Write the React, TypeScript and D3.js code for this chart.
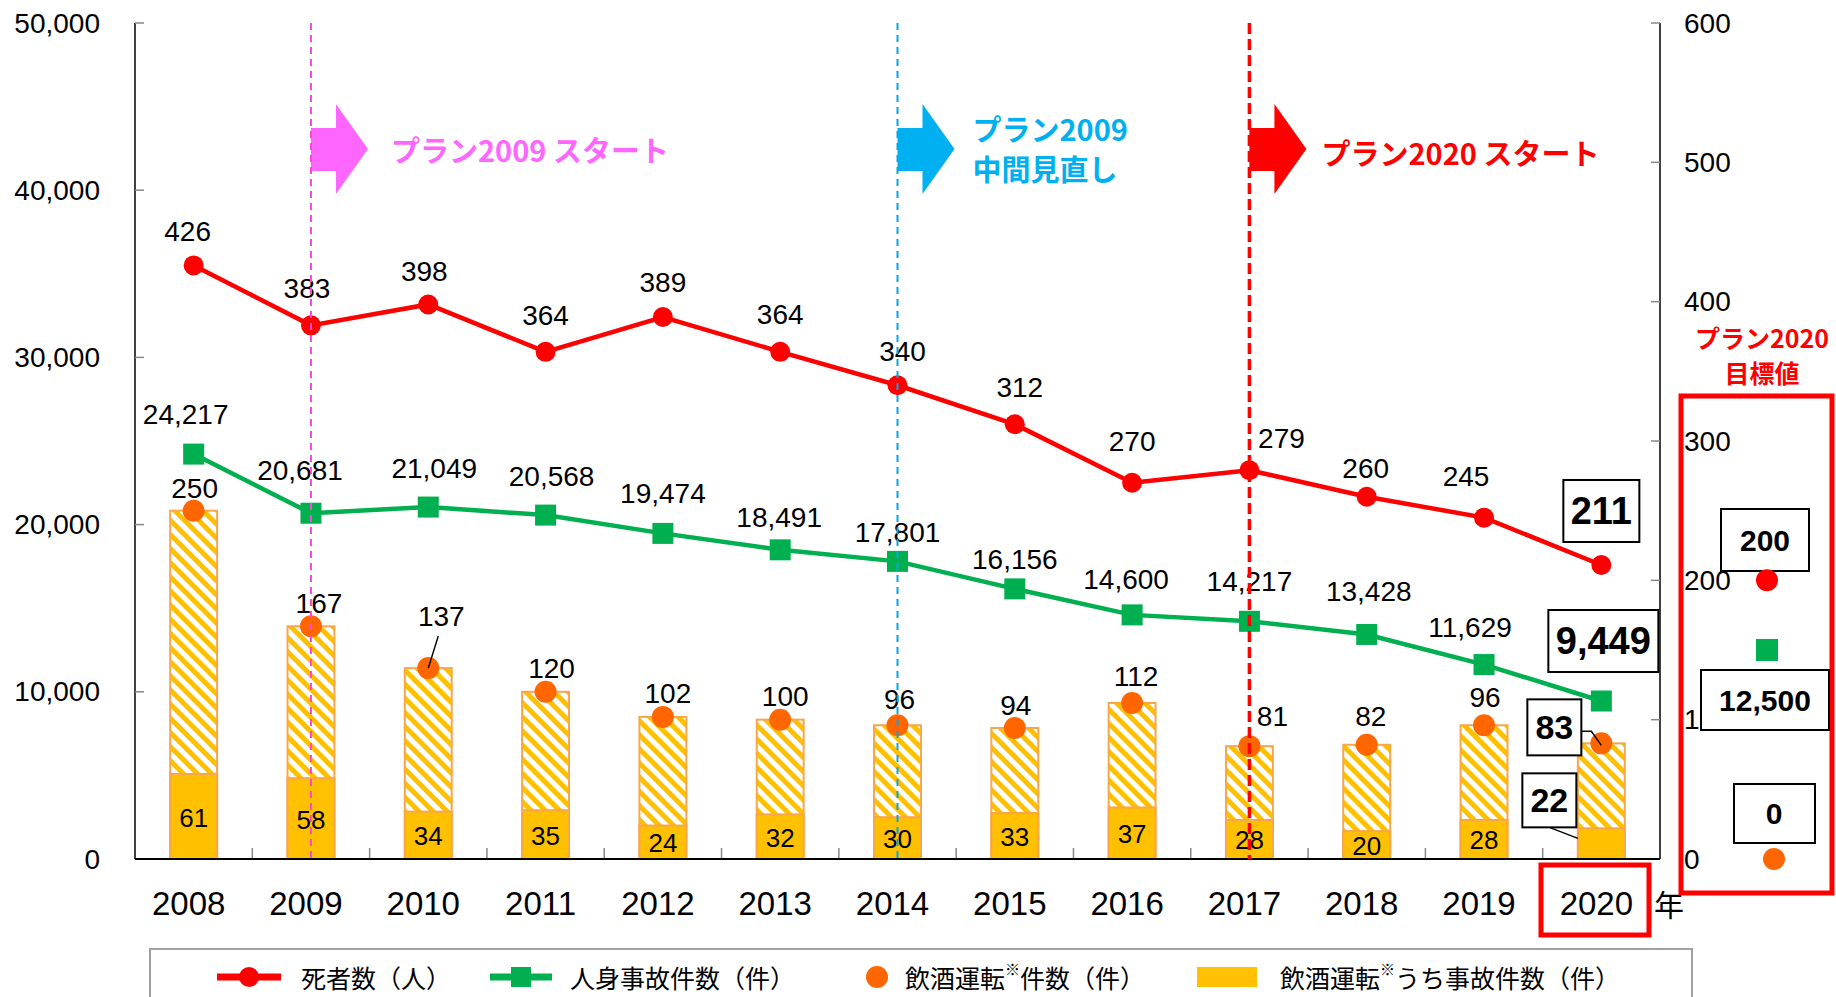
import React from "react";
import * as d3 from "d3";

const years = ["2008","2009","2010","2011","2012","2013","2014","2015","2016","2017","2018","2019","2020"];
const deaths = [426,383,398,364,389,364,340,312,270,279,260,245,211];
const injuryAccidents = [24217,20681,21049,20568,19474,18491,17801,16156,14600,14217,13428,11629,9449];
const drunkDriving = [250,167,137,120,102,100,96,94,112,81,82,96,83];
const drunkAccidents = [61,58,34,35,24,32,30,33,37,28,20,28,22];
const leftTicks = [0,10000,20000,30000,40000,50000];
const rightTicks = [0,100,200,300,400,500,600];
const targetDeaths = 200;
const targetInjury = 12500;
const targetDrunk = 0;

const annotations = [
  { year: "2009", color: "#FF66FF", lineColor: "#FF44DD", lines: ["プラン2009 スタート"], width: 2, dash: "7,5", textDx: 80, textY: [149] },
  { year: "2014", color: "#00B0F0", lineColor: "#00A8E8", lines: ["プラン2009", "中間見直し"], width: 2, dash: "7,5", textDx: 75, textY: [128, 168] },
  { year: "2017", color: "#FF0000", lineColor: "#FF0000", lines: ["プラン2020 スタート"], width: 3.5, dash: "11,5", textDx: 72, textY: [152] },
];

// label offsets (text centre relative to point)
const deathLabelOff = [[-6,-34],[-4,-37],[-4,-33],[0,-36],[0,-34],[0,-37],[5,-34],[5,-37],[0,-41],[32,-32],[-1,-28],[-18,-41]];
const injuryLabelOff = [[-8,-40],[-11,-43],[6,-39],[6,-39],[0,-40],[-1,-32],[0,-29],[0,-29],[-6,-35],[0,-40],[2,-43],[-14,-37]];
const drunkLabelOff = [[1,-22],[8,-23],[13,-52],[6,-23],[5,-23],[5,-23],[2,-26],[1,-23],[4,-26],[23,-30],[4,-28],[1,-28]];

const W = 1836, H = 997;
const L = 135, R = 1660, T = 23, B = 859;

const RED = "#FF0000", GREEN = "#00B050", ORANGE = "#FF6600", YELLOW = "#FFC000", BARSTROKE = "#F9A54A";
const NUM = "'Liberation Sans', Arial, sans-serif";
const JP = "'Noto Sans CJK JP', sans-serif";

export default function App() {
  const x = d3.scaleBand<string>().domain(years).range([L, R]).paddingInner(0).paddingOuter(0);
  const yL = d3.scaleLinear().domain([0, 50000]).range([B, T]);
  const yR = d3.scaleLinear().domain([0, 600]).range([B, T]);
  const cx = (y: string) => (x(y) as number) + x.bandwidth() / 2;
  const barW = x.bandwidth() * 0.4;
  const fmt = d3.format(",");

  const deathLine = d3.line<number>().x((_, i) => cx(years[i])).y(d => yR(d))(deaths) as string;
  const injuryLine = d3.line<number>().x((_, i) => cx(years[i])).y(d => yL(d))(injuryAccidents) as string;

  const last = years.length - 1;
  const lx = cx(years[last]);
  const tx = 1767;

  return (
    <svg width={W} height={H} style={{ position: "absolute", left: 0, top: 0, background: "#fff" }}>
      <defs>
        <pattern id="hatch" patternUnits="userSpaceOnUse" width="10" height="10" patternTransform="rotate(-45)">
          <rect width="10" height="10" fill="#fff" />
          <rect width="5" height="10" fill={YELLOW} />
        </pattern>
      </defs>

      {/* bars */}
      {years.map((yr, i) => (
        <g key={"bar" + yr}>
          <rect x={cx(yr) - barW / 2} y={yR(drunkDriving[i])} width={barW} height={B - yR(drunkDriving[i])} fill="url(#hatch)" stroke={BARSTROKE} strokeWidth={2} />
          <rect x={cx(yr) - barW / 2} y={yR(drunkAccidents[i])} width={barW} height={B - yR(drunkAccidents[i])} fill={YELLOW} stroke={BARSTROKE} strokeWidth={2} />
        </g>
      ))}

      {/* axes */}
      <line x1={L} x2={L} y1={T} y2={B} stroke="#000" strokeWidth={1.5} />
      <line x1={R} x2={R} y1={T} y2={B} stroke="#000" strokeWidth={1.5} />
      {leftTicks.map(t => (
        <g key={"lt" + t}>
          <line x1={L} x2={L + 9} y1={yL(t)} y2={yL(t)} stroke="#888" strokeWidth={1.5} />
          <text x={100} y={yL(t)} textAnchor="end" dominantBaseline="central" fontFamily={NUM} fontSize={28}>{fmt(t)}</text>
        </g>
      ))}
      {rightTicks.map(t => (
        <g key={"rt" + t}>
          <line x1={R - 9} x2={R} y1={yR(t)} y2={yR(t)} stroke="#888" strokeWidth={1.5} />
          <text x={1684} y={yR(t)} textAnchor="start" dominantBaseline="central" fontFamily={NUM} fontSize={28}>{t}</text>
        </g>
      ))}
      {years.map((yr, i) => i > 0 ? (
        <line key={"xt" + yr} x1={x(yr)} x2={x(yr)} y1={B} y2={B - 11} stroke="#888" strokeWidth={1.5} />
      ) : null)}
      <line x1={L} x2={R} y1={B} y2={B} stroke="#000" strokeWidth={2} />
      {years.map(yr => (
        <text key={"xl" + yr} x={cx(yr) - 5} y={903} textAnchor="middle" dominantBaseline="central" fontFamily={NUM} fontSize={33}>{yr}</text>
      ))}
      <text x={1669} y={903} textAnchor="middle" dominantBaseline="central" fontFamily={JP} fontSize={30}>年</text>
      <rect x={1541} y={865} width={108} height={70} fill="none" stroke={RED} strokeWidth={5} />

      {/* lines */}
      <path d={deathLine} fill="none" stroke={RED} strokeWidth={4.5} />
      <path d={injuryLine} fill="none" stroke={GREEN} strokeWidth={4.5} />
      {deaths.map((d, i) => <circle key={"dm" + i} cx={cx(years[i])} cy={yR(d)} r={10} fill={RED} />)}
      {injuryAccidents.map((d, i) => <rect key={"im" + i} x={cx(years[i]) - 10.5} y={yL(d) - 10.5} width={21} height={21} fill={GREEN} />)}
      {drunkDriving.map((d, i) => <circle key={"om" + i} cx={cx(years[i])} cy={yR(d)} r={11} fill={ORANGE} />)}

      {/* data labels */}
      {deaths.slice(0, last).map((d, i) => (
        <text key={"dl" + i} x={cx(years[i]) + deathLabelOff[i][0]} y={yR(d) + deathLabelOff[i][1]} textAnchor="middle" dominantBaseline="central" fontFamily={NUM} fontSize={28}>{d}</text>
      ))}
      {injuryAccidents.slice(0, last).map((d, i) => (
        <text key={"il" + i} x={cx(years[i]) + injuryLabelOff[i][0]} y={yL(d) + injuryLabelOff[i][1]} textAnchor="middle" dominantBaseline="central" fontFamily={NUM} fontSize={28}>{fmt(d)}</text>
      ))}
      {drunkDriving.slice(0, last).map((d, i) => (
        <text key={"ol" + i} x={cx(years[i]) + drunkLabelOff[i][0]} y={yR(d) + drunkLabelOff[i][1]} textAnchor="middle" dominantBaseline="central" fontFamily={NUM} fontSize={28}>{d}</text>
      ))}
      <line x1={cx(years[2]) + 10} y1={yR(drunkDriving[2]) - 32} x2={cx(years[2])} y2={yR(drunkDriving[2])} stroke="#000" strokeWidth={1.5} />
      {drunkAccidents.slice(0, last).map((d, i) => (
        <text key={"bl" + i} x={cx(years[i])} y={(yR(d) + B) / 2 + 1} textAnchor="middle" dominantBaseline="central" fontFamily={NUM} fontSize={26}>{d}</text>
      ))}

      {/* 2020 boxed labels */}
      <g fontFamily={NUM} fontWeight="bold" textAnchor="middle">
        <rect x={lx - 38} y={yR(deaths[last]) - 54 - 31} width={76} height={62} fill="#fff" stroke="#000" strokeWidth={2} />
        <text x={lx} y={yR(deaths[last]) - 54} dominantBaseline="central" fontSize={38}>{deaths[last]}</text>
        <rect x={lx + 2 - 55} y={yL(injuryAccidents[last]) - 60 - 31} width={110} height={62} fill="#fff" stroke="#000" strokeWidth={2} />
        <text x={lx + 2} y={yL(injuryAccidents[last]) - 60} dominantBaseline="central" fontSize={38}>{fmt(injuryAccidents[last])}</text>
        <polyline points={`${lx - 20},${yR(drunkDriving[last]) - 12} ${lx - 10},${yR(drunkDriving[last]) - 12} ${lx},${yR(drunkDriving[last]) + 2}`} fill="none" stroke="#000" strokeWidth={1.5} />
        <rect x={lx - 47 - 27} y={yR(drunkDriving[last]) - 16 - 28} width={54} height={56} fill="#fff" stroke="#000" strokeWidth={2} />
        <text x={lx - 47} y={yR(drunkDriving[last]) - 16} dominantBaseline="central" fontSize={34}>{drunkDriving[last]}</text>
        <line x1={lx - 52} y1={yR(drunkAccidents[last]) - 1} x2={lx - barW / 2} y2={yR(drunkAccidents[last]) + 10} stroke="#000" strokeWidth={1.5} />
        <rect x={lx - 52 - 27} y={yR(drunkAccidents[last]) - 28 - 27} width={54} height={54} fill="#fff" stroke="#000" strokeWidth={2} />
        <text x={lx - 52} y={yR(drunkAccidents[last]) - 28} dominantBaseline="central" fontSize={34}>{drunkAccidents[last]}</text>
      </g>

      {/* annotation lines & arrows */}
      {annotations.map(a => {
        const ax = cx(a.year);
        return (
          <g key={"an" + a.year}>
            <polygon points={`${ax},128 ${ax + 25},128 ${ax + 25},104 ${ax + 57},149 ${ax + 25},194 ${ax + 25},171 ${ax},171`} fill={a.color} />
            <line x1={ax} x2={ax} y1={T} y2={B} stroke={a.lineColor} strokeWidth={a.width} strokeDasharray={a.dash} />
            {a.lines.map((t, k) => (
              <text key={k} x={ax + a.textDx} y={a.textY[k]} dominantBaseline="central" fontFamily={JP} fontWeight={600} fontSize={29} fill={a.color}>{t}</text>
            ))}
          </g>
        );
      })}

      {/* target panel */}
      <text x={1762} y={337} textAnchor="middle" dominantBaseline="central" fontFamily={JP} fontWeight="bold" fontSize={25} fill={RED}>プラン2020</text>
      <text x={1762} y={372} textAnchor="middle" dominantBaseline="central" fontFamily={JP} fontWeight="bold" fontSize={25} fill={RED}>目標値</text>
      <rect x={1681} y={396} width={151} height={497} fill="none" stroke={RED} strokeWidth={5} />
      <g fontFamily={NUM} fontWeight="bold" textAnchor="middle">
        <rect x={1721} y={509} width={88} height={62} fill="#fff" stroke="#000" strokeWidth={2} />
        <text x={1765} y={540} dominantBaseline="central" fontSize={30}>{targetDeaths}</text>
        <rect x={1701} y={670} width={128} height={60} fill="#fff" stroke="#000" strokeWidth={2} />
        <text x={1765} y={700} dominantBaseline="central" fontSize={30}>{fmt(targetInjury)}</text>
        <rect x={1734} y={784} width={81} height={59} fill="#fff" stroke="#000" strokeWidth={2} />
        <text x={1774} y={813} dominantBaseline="central" fontSize={30}>{targetDrunk}</text>
      </g>
      <circle cx={tx} cy={yR(targetDeaths)} r={11} fill={RED} />
      <rect x={tx - 11} y={yL(targetInjury) - 11} width={22} height={22} fill={GREEN} />
      <circle cx={tx + 7} cy={yR(targetDrunk)} r={11} fill={ORANGE} />

      {/* legend */}
      <rect x={150} y={949} width={1542} height={60} fill="#fff" stroke="#A0A0A0" strokeWidth={2} />
      <g fontFamily={JP} fontSize={25} dominantBaseline="central">
        <line x1={217} x2={281} y1={977} y2={977} stroke={RED} strokeWidth={7} />
        <circle cx={249} cy={977} r={10} fill={RED} />
        <text x={301} y={977}>死者数（人）</text>
        <line x1={490} x2={552} y1={977} y2={977} stroke={GREEN} strokeWidth={7} />
        <rect x={511} y={967} width={20} height={20} fill={GREEN} />
        <text x={570} y={977}>人身事故件数（件）</text>
        <circle cx={877} cy={977} r={11} fill={ORANGE} />
        <text x={905} y={977}>飲酒運転<tspan fontSize={15} dy={-9}>※</tspan><tspan dy={9}>件数（件）</tspan></text>
        <rect x={1197} y={967} width={60} height={20} fill={YELLOW} />
        <text x={1280} y={977}>飲酒運転<tspan fontSize={15} dy={-9}>※</tspan><tspan dy={9}>うち事故件数（件）</tspan></text>
      </g>
    </svg>
  );
}
